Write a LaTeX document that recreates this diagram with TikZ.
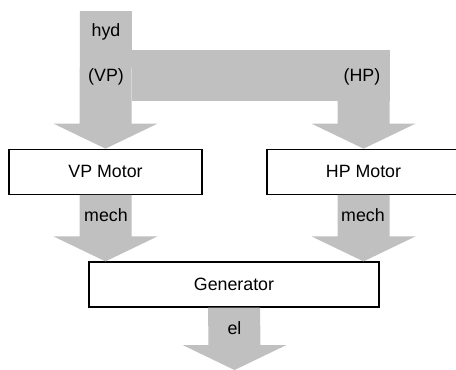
\documentclass[tikz,border=0pt]{standalone}
\usepackage{fontspec}
\setmainfont{Liberation Sans}
\usetikzlibrary{calc}
\definecolor{flowgrey}{HTML}{C0C0C0}

\begin{document}
\begin{tikzpicture}[
  x=0.5pt, y=-0.5pt,
  font=\fontsize{8.9}{10.5}\selectfont,
  box/.style={rectangle, draw, line width=0.6pt, fill=white, minimum width=96.5pt, minimum height=22.5pt, inner sep=0pt},
  flow/.style={fill=flowgrey, draw=none},
  lbl/.style={inner sep=0pt},
]
  \useasboundingbox (0,0) rectangle (456,370);

  \node[box] (vpm) at (105.5,171.75) {VP Motor};
  \node[box] (hpm) at (363.5,171.75) {HP Motor};
  \node[box, minimum width=145pt] (gen) at (234,284.5) {Generator};

  \coordinate (hydin) at (106,11);
  \coordinate (hpin) at (363.5,50);
  \coordinate (vpgen) at (vpm.south |- gen.north);
  \coordinate (hpgen) at (hpm.south |- gen.north);
  \coordinate (elout) at (234.5,370);

  % hydraulic bar between the two pumps
  \fill[flow] ($(hydin)+(26,39)$) rectangle ($(hpm.north)+(26.5,-47.25)$);

  % block arrows: shaft 52, head 104 x 25
  \foreach \from/\to in {hydin/vpm.north, hpin/hpm.north, vpm.south/vpgen, hpm.south/hpgen, gen.south/elout}
    \fill[flow] ($(\from)+(-26,0)$) -- ($(\to)+(-26,-25)$) -- ($(\to)+(-52,-25)$) -- (\to)
      -- ($(\to)+(52,-25)$) -- ($(\to)+(26,-25)$) -- ($(\from)+(26,0)$) -- cycle;

  \node[lbl] (hyd) at (106,32) {hyd};
  \node[lbl] (vp) at (106,77) {(VP)};
  \node[lbl] (hp) at (362,77) {(HP)};
  \node[lbl] (mechvp) at (106,215) {mech};
  \node[lbl] (mechhp) at (363,215) {mech};
  \node[lbl] (el) at (234.5,328) {el};
\end{tikzpicture}
\end{document}
